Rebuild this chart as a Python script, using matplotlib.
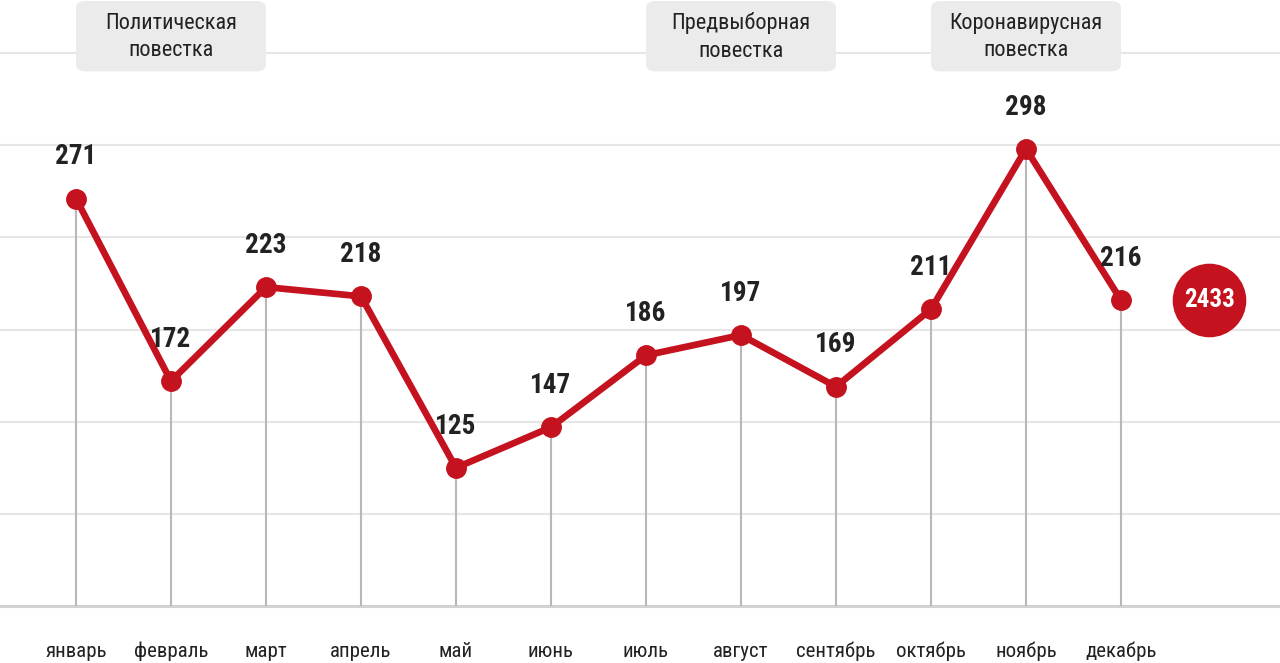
import matplotlib.pyplot as plt
from matplotlib.patches import FancyBboxPatch

months = ['январь', 'февраль', 'март', 'апрель', 'май', 'июнь',
          'июль', 'август', 'сентябрь', 'октябрь', 'ноябрь', 'декабрь']
values = [271, 172, 223, 218, 125, 147, 186, 197, 169, 211, 298, 216]
grid_vals = [100, 150, 200, 250, 300, 350]
base_val = 50
# agenda boxes: (label, first month index, last month index)
agendas = [('Политическая\nповестка', 0, 2),
           ('Предвыборная\nповестка', 6, 8),
           ('Коронавирусная\nповестка', 9, 11)]
total = sum(values)

RED = '#c5121f'
plt.rcParams['font.family'] = ['Roboto Condensed', 'DejaVu Sans']

fig = plt.figure(figsize=(12.8, 6.63), dpi=100)
ax = fig.add_axes([0, 0, 1, 1])
ax.set_xlim(-0.8, 12.674)
ax.set_ylim(19.1, 378.75)
ax.axis('off')

for g in grid_vals:
    ax.axhline(g, color='#e6e6e6', lw=1.5, zorder=0)
ax.axhline(base_val, color='#d2d2d2', lw=2.2, zorder=1)

x = list(range(len(months)))
ax.vlines(x, base_val, values, color='#b8b8b8', lw=1.5, zorder=2)
ax.plot(x, values, color=RED, lw=4.8, marker='o', ms=14,
        solid_joinstyle='round', zorder=3)

for xi, v in zip(x, values):
    ax.annotate(str(v), (xi, v), xytext=(0, 30), textcoords='offset points',
                ha='center', va='center', fontsize=19.5, fontweight='bold',
                color='#222222', zorder=4)

for xi, m in zip(x, months):
    ax.text(xi, 25.5, m, ha='center', va='center', fontsize=15, color='#222222')

for label, a, b in agendas:
    box = FancyBboxPatch((a, 340), b - a, 38.2,
                         boxstyle='round,pad=0,rounding_size=0.1',
                         mutation_aspect=40, fc='#ebebeb', ec='none', zorder=2)
    ax.add_patch(box)
    ax.text((a + b) / 2, 358.6, label, ha='center', va='center', fontsize=16,
            color='#222222', linespacing=1.4, zorder=3)

ax.plot([11.93], [values[-1]], marker='o', ms=53, color=RED, mec='none', zorder=3)
ax.text(11.93, values[-1], str(total), ha='center', va='center', fontsize=18,
        fontweight='bold', color='white', zorder=4)

fig.savefig('out.png', dpi=100)
